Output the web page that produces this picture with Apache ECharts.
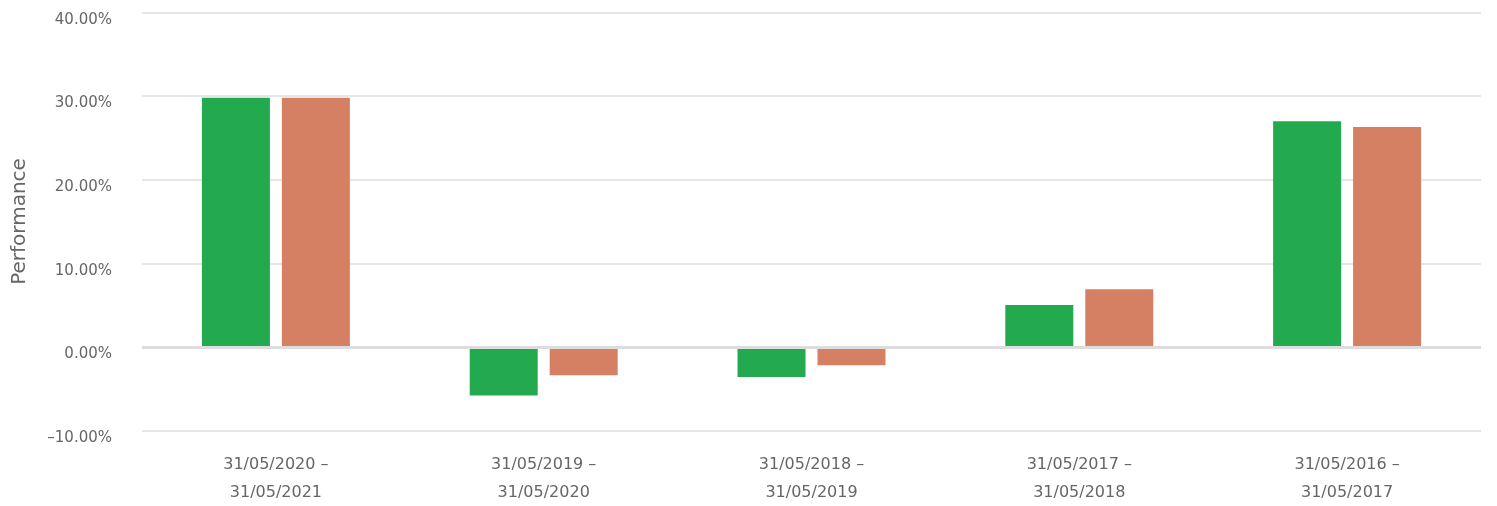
<!DOCTYPE html>
<html>
<head>
<meta charset="utf-8">
<script src="https://cdn.jsdelivr.net/npm/echarts@6/dist/echarts.min.js"></script>
<style>
  html, body { margin: 0; padding: 0; background: #fff; }
  #chart { width: 1497px; height: 506px; }
</style>
</head>
<body>
<div id="chart"></div>
<script>
// 期間 (x 軸)
const periods = [
    '31/05/2020 –\n31/05/2021',
    '31/05/2019 –\n31/05/2020',
    '31/05/2018 –\n31/05/2019',
    '31/05/2017 –\n31/05/2018',
    '31/05/2016 –\n31/05/2017'
];
// 兩組績效 (%)
const fundValues = [29.8, -5.8, -3.6, 5.0, 27.0];
const benchValues = [29.8, -3.4, -2.2, 6.9, 26.3];
const yTicks = { min: -10, max: 40, interval: 10 };

document.addEventListener('DOMContentLoaded', () => {
    const myChart = echarts.init(document.getElementById('chart'));
    const textColor = '#666666';

    const option = {
        animation: false,
        grid: { left: 142, right: 16, top: 12.5, bottom: 75.5, outerBoundsMode: 'none', containLabel: false },
        xAxis: {
            type: 'category',
            data: periods,
            axisLine: { show: false },
            axisTick: { show: false },
            axisLabel: {
                color: textColor,
                fontFamily: 'DejaVu Sans',
                fontSize: 16,
                lineHeight: 28,
                margin: 20
            }
        },
        yAxis: {
            type: 'value',
            min: yTicks.min,
            max: yTicks.max,
            interval: yTicks.interval,
            name: 'Performance',
            nameLocation: 'middle',
            nameGap: 112,
            nameTextStyle: { color: textColor, fontSize: 20, fontFamily: 'DejaVu Sans' },
            axisLine: { show: false },
            axisTick: { show: false },
            axisLabel: {
                color: textColor,
                fontFamily: 'DejaVu Sans',
                fontSize: 15,
                margin: 30,
                verticalAlign: 'top',
                formatter: v => (v < 0 ? '\u2013' : '') + Math.abs(v).toFixed(2) + '%'
            },
            splitLine: { lineStyle: { color: '#e6e6e6', width: 2 } }
        },
        series: [
            {
                type: 'bar',
                data: fundValues,
                barWidth: 68,
                barGap: '17.6%',
                itemStyle: { color: '#24aa4e' },
                markLine: {
                    silent: true,
                    symbol: 'none',
                    label: { show: false },
                    lineStyle: { color: '#dddddd', width: 3, type: 'solid' },
                    data: [{ yAxis: 0 }]
                }
            },
            {
                type: 'bar',
                data: benchValues,
                barWidth: 68,
                itemStyle: { color: '#d58063' }
            }
        ]
    };

    myChart.setOption(option);
    window.addEventListener('resize', () => myChart.resize());
});
</script>
</body>
</html>
